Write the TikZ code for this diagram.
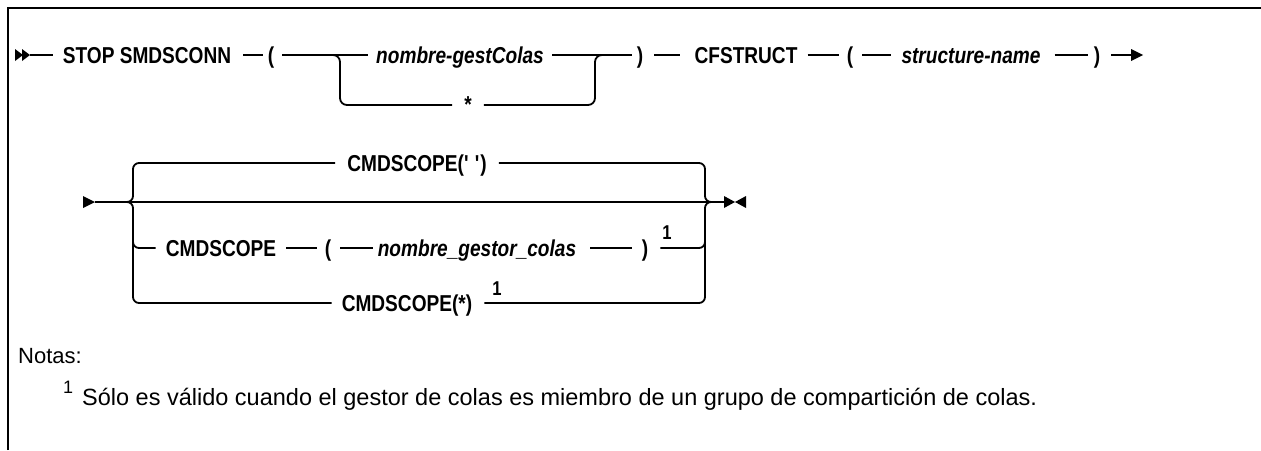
\documentclass[tikz,border=0pt]{standalone}
\usepackage{fontspec}
\setmainfont{Liberation Sans}
\newfontfamily\kwfam[FakeStretch=0.83]{Liberation Sans}
\newcommand\kwfont{\kwfam\fontsize{23}{26}\selectfont\bfseries}
\newcommand\vrfont{\kwfam\fontsize{23}{26}\selectfont\bfseries\itshape}
\newcommand\supfont{\kwfam\fontsize{20}{23}\selectfont\bfseries}
\newcommand\notefont{\fontsize{23.5}{27}\selectfont}
\begin{document}
\begin{tikzpicture}[x=1pt,y=-1pt,
  rail/.style={line width=1.8pt},
  kw/.style={font=\kwfont,inner sep=0pt,anchor=base},
  vr/.style={font=\vrfont,inner sep=0pt,anchor=base},
  sup/.style={font=\supfont,inner sep=0pt,anchor=base},
  note/.style={font=\notefont,inner sep=0pt,anchor=base west},
  tipfill/.style={fill=black}]
\useasboundingbox (0,0) rectangle (1261,450);
\draw[line width=2.4pt] (8,450) -- (8,8) -- (1261,8);

% ---------- row 1 ----------
\node[kw] (stop) at (147,63) {STOP SMDSCONN};
\node[kw] (lp1) at (271,63) {(};
\node[vr] (qm) at (460,63) {nombre-gestColas};
\node[kw] (star) at (468,112) {*};
\node[kw] (rp1) at (640,63) {)};
\node[kw] (cfs) at (746,63) {CFSTRUCT};
\node[kw] (lp2) at (850,63) {(};
\node[vr] (sn) at (971,63) {structure-name};
\node[kw] (rp2) at (1097,63) {)};
\coordinate (s1) at (30,55);
\coordinate (e1) at (1132,55);

\fill[tipfill] (15,49) -- (23,55) -- (15,61) -- cycle;
\fill[tipfill] (22,49) -- (30,55) -- (22,61) -- cycle;
\draw[rail, shorten >=10pt] (s1) -- (stop.west |- 0,55);
\draw[rail, shorten <=12pt, shorten >=5pt] (stop.east |- 0,55) -- (lp1.west |- 0,55);
\draw[rail, shorten <=8pt, shorten >=8pt] (lp1.east |- 0,55) -- (qm.west |- 0,55);
\draw[rail, rounded corners=7pt, shorten >=12pt] (330,55) -- (340,55) -- (340,105) -- (star.west |- 0,105);
\draw[rail, rounded corners=7pt, shorten <=12pt] (star.east |- 0,105) -- (595,105) -- (595,55) -- (605,55);
\draw[rail, shorten <=8pt, shorten >=5pt] (qm.east |- 0,55) -- (rp1.west |- 0,55);
\draw[rail, shorten <=11pt, shorten >=14pt] (rp1.east |- 0,55) -- (cfs.west |- 0,55);
\draw[rail, shorten <=10pt, shorten >=8pt] (cfs.east |- 0,55) -- (lp2.west |- 0,55);
\draw[rail, shorten <=9pt, shorten >=10pt] (lp2.east |- 0,55) -- (sn.west |- 0,55);
\draw[rail, shorten <=14pt, shorten >=6pt] (sn.east |- 0,55) -- (rp2.west |- 0,55);
\draw[rail, shorten <=11pt] (rp2.east |- 0,55) -- (e1);
\fill[tipfill] (1131,49) -- (1143,55) -- (1131,61) -- cycle;

% ---------- row 2 ----------
\node[kw] (cs1) at (417,171) {CMDSCOPE(\textquotesingle\ \textquotesingle)};
\node[kw] (cmd) at (221,256) {CMDSCOPE};
\node[kw] (lp3) at (328,256) {(};
\node[vr] (ngc) at (477,256) {nombre\_gestor\_colas};
\node[kw] (rp3) at (645,256) {)};
\node[sup] (n1) at (667,239) {1};
\node[kw] (cs3) at (407,311) {CMDSCOPE(*)};
\node[sup] (n2) at (497,295) {1};
\coordinate (s2) at (95,202);
\coordinate (e2) at (725,202);

\fill[tipfill] (83,196) -- (95,202) -- (83,208) -- cycle;
\draw[rail] (s2) -- (e2);
\draw[rail, rounded corners=6pt, shorten >=12pt] (125,202) -- (133,202) -- (133,163) -- (cs1.west |- 0,163);
\draw[rail, rounded corners=6pt, shorten >=10pt] (125,202) -- (133,202) -- (133,303) -- (cs3.west |- 0,303);
\draw[rail, rounded corners=6pt, shorten >=10pt] (133,238) -- (133,248) -- (cmd.west |- 0,248);
\draw[rail, rounded corners=6pt, shorten <=12pt] (cs1.east |- 0,163) -- (705,163) -- (705,202) -- (715,202);
\draw[rail, rounded corners=6pt, shorten <=12pt] (cs3.east |- 0,303) -- (705,303) -- (705,202) -- (715,202);
\draw[rail, rounded corners=6pt, shorten <=12pt] (rp3.east |- 0,248) -- (705,248) -- (705,238);
\draw[rail, shorten <=10pt, shorten >=8pt] (cmd.east |- 0,248) -- (lp3.west |- 0,248);
\draw[rail, shorten <=9pt, shorten >=5pt] (lp3.east |- 0,248) -- (ngc.west |- 0,248);
\draw[rail, shorten <=14pt, shorten >=10pt] (ngc.east |- 0,248) -- (rp3.west |- 0,248);
\fill[tipfill] (724,196) -- (735,202) -- (724,208) -- cycle;
\fill[tipfill] (746,196) -- (735,202) -- (746,208) -- cycle;

% ---------- notes ----------
\node[note, font=\fontsize{22}{26}\selectfont] (notas) at (18,363) {Notas:};
\node[note, font=\fontsize{18}{21}\selectfont] (fnm) at (63,393) {1};
\node[note] (fn) at (82,405) {Sólo es válido cuando el gestor de colas es miembro de un grupo de compartición de colas.};
\end{tikzpicture}
\end{document}
